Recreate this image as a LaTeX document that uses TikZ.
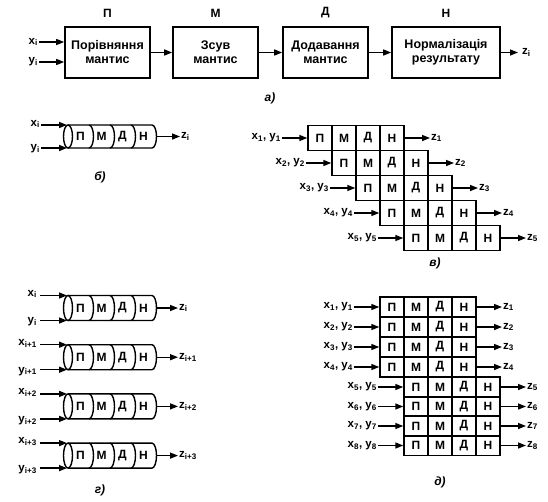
\documentclass[tikz,border=0pt]{standalone}
\usepackage{fontspec}
\setmainfont{Liberation Sans}
\usetikzlibrary{arrows.meta,positioning,calc}

\tikzset{
  blk/.style={draw,line width=1.6pt,minimum height=51pt,align=center,inner sep=1pt,font=\bfseries\fontsize{12.5}{14}\selectfont},
  ttl/.style={font=\bfseries\fontsize{12}{12}\selectfont},
  cell/.style={draw,line width=1.4pt,minimum width=24pt,minimum height=25pt,inner sep=0pt,font=\bfseries\fontsize{12}{12}\selectfont},
  pcell/.style={inner sep=0pt,font=\bfseries\fontsize{12}{12}\selectfont},
  lbl/.style={inner sep=1pt,font=\bfseries\fontsize{11.5}{11}\selectfont},
  captxt/.style={font=\bfseries\itshape\fontsize{12}{12}\selectfont},
  arr/.style={-{Triangle[length=8pt,width=6pt]},line width=1.4pt},
}

\newcommand{\drawpipe}[3]{%
  \pgfmathsetmacro{\hh}{#3/2}
  \draw[line width=1.4pt] (68,#2-\hh) -- (152,#2-\hh) arc[start angle=-90,end angle=90,x radius=4.5,y radius=\hh] -- (68,#2+\hh);
  \draw[line width=1.4pt] (68,#2) ellipse[x radius=4.5,y radius=\hh];
  \foreach \s in {89,110,131}
    \draw[line width=1.4pt] (\s,#2-\hh) arc[start angle=-90,end angle=90,x radius=4.5,y radius=\hh];
  \foreach \t [count=\k] in {П,М,Д,Н}
    \node[pcell] (#1-\k) at (59.5+21*\k,#2) {\t};
  \coordinate (#1-l) at (67,#2);
  \coordinate (#1-r) at (156.5,#2);
}

\begin{document}
\begin{tikzpicture}[x=1pt,y=-1pt]
\useasboundingbox (0,0) rectangle (548,501);

\node[blk,minimum width=85pt] (P) at (107.5,52.5) {Порівняння\\мантис};
\node[blk,minimum width=85pt] (M) at (215.5,52.5) {Зсув\\мантис};
\node[blk,minimum width=85pt] (D) at (325.5,52.5) {Додавання\\мантис};
\node[blk,minimum width=108pt] (N) at (446,52.5) {Нормалізація\\результату};
\node[ttl,above=5pt of P] (tP) {П};
\node[ttl,above=5pt of M] (tM) {М};
\node[ttl,above=5pt of D] (tD) {Д};
\node[ttl,above=5pt of N] (tN) {Н};
\node[lbl,anchor=east] (ax) at (39,42) {x\textsubscript{i}};
\node[lbl,anchor=east] (ay) at (39,62) {y\textsubscript{i}};
\node[lbl,anchor=west] (az) at (521,52.5) {z\textsubscript{i}};
\draw[arr] (ax) -- (ax -| P.west);
\draw[arr] (ay) -- (ay -| P.west);
\draw[arr] (P) -- (M);
\draw[arr] (M) -- (D);
\draw[arr] (D) -- (N);
\draw[arr,shorten >=3pt] (N) -- (az);
\node[captxt] (capa) at (270,98) {а)};

\drawpipe{b}{136.5}{23}
\node[lbl,anchor=east] (bx) at (41,124) {x\textsubscript{i}};
\node[lbl,anchor=east] (by) at (41,149) {y\textsubscript{i}};
\node[lbl,anchor=west] (bz) at (180,136.5) {z\textsubscript{i}};
\draw[arr] (bx.east |- 0,125) -- (b-l |- 0,125);
\draw[arr] (by.east |- 0,148) -- (b-l |- 0,148);
\draw[arr] (b-r) -- (bz);
\node[captxt] (capb) at (100,177) {б)};

\foreach \g/\sub in {0/i,1/i+1,2/i+2,3/i+3}
{
  \pgfmathsetmacro{\yg}{308+49.2*\g}
  \drawpipe{g\g}{\yg}{25}
  \node[lbl,anchor=east] (gx\g) at (38,\yg-14) {x\textsubscript{\sub}};
  \node[lbl,anchor=east] (gy\g) at (38,\yg+14) {y\textsubscript{\sub}};
  \node[lbl,anchor=west] (gz\g) at (178,\yg) {z\textsubscript{\sub}};
  \coordinate (gxe\g) at (40,\yg-12.5);
  \coordinate (gye\g) at (40,\yg+12.5);
  \draw[arr] (gxe\g) -- (gxe\g -| g\g-l);
  \draw[arr] (gye\g) -- (gye\g -| g\g-l);
  \draw[arr] (g\g-r) -- (gz\g);
}
\node[captxt] (capg) at (100,490) {г)};

\foreach \r in {1,...,5}
{
  \pgfmathsetmacro{\yr}{138+25*(\r-1)}
  \pgfmathsetmacro{\xr}{308+24*(\r-1)}
  \foreach \t [count=\k] in {П,М,Д,Н}
    \node[cell] (v\r-\k) at (\xr-12+24*\k,\yr) {\t};
  \node[lbl,anchor=east] (vx\r) at (\xr-26,\yr) {x\textsubscript{\r}, y\textsubscript{\r}};
  \node[lbl,anchor=west] (vz\r) at (\xr+122,\yr) {z\textsubscript{\r}};
  \draw[arr] (vx\r) -- (v\r-1);
  \draw[arr] (v\r-4) -- (vz\r);
}
\node[captxt] (capv) at (435,263) {в)};

\foreach \r in {1,...,8}
{
  \pgfmathsetmacro{\yr}{\r<5 ? 307+20*(\r-1) : 387+19.5*(\r-5)}
  \pgfmathsetmacro{\xr}{\r<5 ? 380 : 404}
  \foreach \t [count=\k] in {П,М,Д,Н}
    \node[cell,minimum height=20pt] (d\r-\k) at (\xr-12+24*\k,\yr) {\t};
  \node[lbl,anchor=east] (dx\r) at (\xr-26,\yr) {x\textsubscript{\r}, y\textsubscript{\r}};
  \node[lbl,anchor=west] (dz\r) at (\xr+122,\yr) {z\textsubscript{\r}};
  \draw[arr] (dx\r) -- (d\r-1);
  \draw[arr] (d\r-4) -- (dz\r);
}
\node[captxt] (capd) at (440,482) {д)};
\end{tikzpicture}
\end{document}
